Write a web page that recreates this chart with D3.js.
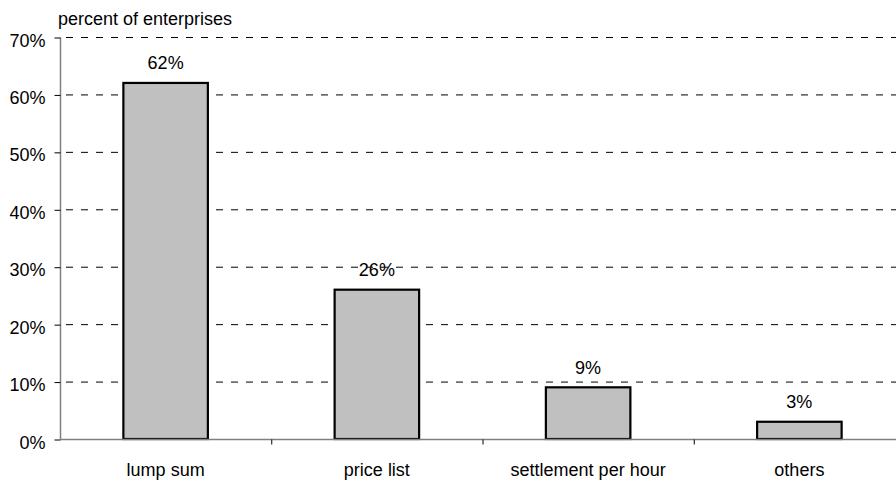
<!DOCTYPE html>
<html>
<head>
<meta charset="utf-8">
<script src="https://cdn.jsdelivr.net/npm/d3@7"></script>
<style>
html,body{margin:0;padding:0;background:#fff;}
svg{display:block;font-family:"Liberation Sans",Arial,sans-serif;}
</style>
</head>
<body>
<svg id="chart" width="896" height="482"></svg>
<script>
const categories = ["lump sum", "price list", "settlement per hour", "others"];
const values = [62, 26, 9, 3];
const yTicks = [0, 10, 20, 30, 40, 50, 60, 70];
const yTitle = "percent of enterprises";

const svg = d3.select("#chart");
const mLeft = 60, mRight = 905, mTop = 37, mBottom = 439;
const fs = 18;

const x = d3.scaleBand().domain(categories).range([mLeft, mRight]).paddingInner(0.6).paddingOuter(0.3);
const y = d3.scaleLinear().domain([0, 70]).range([mBottom, mTop]);
const step = x.step();

// gridlines
svg.append("g").selectAll("line").data(yTicks.filter(d => d > 0)).join("line")
  .attr("x1", mLeft).attr("x2", 896)
  .attr("y1", d => y(d) + 0.5).attr("y2", d => y(d) + 0.5)
  .attr("stroke", "#000").attr("stroke-width", 1).attr("stroke-dasharray", "7,8")
  .attr("stroke-dashoffset", -6);

// y axis
const yAxis = d3.axisLeft(y).tickValues(yTicks).tickSize(6).tickFormat(d => d + "%");
const gy = svg.append("g").attr("transform", `translate(${mLeft + 0.5},0.5)`).call(yAxis);
gy.select(".domain").attr("stroke", "#808080").attr("stroke-width", 1.5).attr("d", `M0,${mTop}V${mBottom}`);
gy.selectAll(".tick line").attr("stroke", "#000");
gy.selectAll(".tick text").attr("x", -15).attr("dy", "0.48em").attr("font-size", fs).attr("fill", "#000")
  .attr("font-family", "Liberation Sans, Arial, sans-serif");

// bars
svg.append("g").selectAll("rect").data(values).join("rect")
  .attr("x", (d, i) => x(categories[i]))
  .attr("y", d => y(d))
  .attr("width", x.bandwidth())
  .attr("height", d => y(0) - y(d))
  .attr("fill", "#c0c0c0").attr("stroke", "#000").attr("stroke-width", 2.2);

// x axis
const gx = svg.append("g").attr("transform", `translate(0,${mBottom + 0.5})`);
gx.append("line").attr("x1", mLeft).attr("x2", 896).attr("stroke", "#808080").attr("stroke-width", 1.5);
gx.selectAll("line.tk").data(categories.slice(1)).join("line").attr("class", "tk")
  .attr("x1", d => x(d) - step * 0.3 + 0.5).attr("x2", d => x(d) - step * 0.3 + 0.5)
  .attr("y1", 0).attr("y2", 5).attr("stroke", "#000");
gx.selectAll("text").data(categories).join("text")
  .attr("x", d => x(d) + x.bandwidth() / 2).attr("y", 36)
  .attr("text-anchor", "middle").attr("font-size", fs).text(d => d);

// value labels
svg.append("g").selectAll("text").data(values).join("text")
  .attr("x", (d, i) => x(categories[i]) + x.bandwidth() / 2)
  .attr("y", d => y(d) - 13.5)
  .attr("text-anchor", "middle").attr("font-size", fs)
  .text(d => d + "%");

// y title
svg.append("text").attr("x", 58).attr("y", 24.5).attr("font-size", fs).text(yTitle);
</script>
</body>
</html>
